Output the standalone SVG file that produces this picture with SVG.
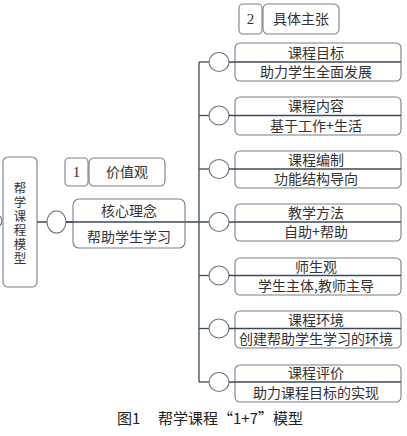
<svg xmlns="http://www.w3.org/2000/svg" width="407" height="436" viewBox="0 0 407 436">
<style>
.box{fill:#fff;stroke:#7a7f86;stroke-width:1.1}
.circ{fill:#fff;stroke:#6c727a;stroke-width:1.1}
.ln{stroke:#3c4a58;stroke-width:1.3;fill:none}
.t{font-family:"Noto Sans CJK SC","Noto Sans",sans-serif;font-size:14px;fill:#333;text-anchor:middle}
.v{font-family:"Noto Sans CJK SC","Noto Sans",sans-serif;font-size:12.5px;fill:#333;text-anchor:middle;writing-mode:vertical-rl;letter-spacing:1.5px}
.n{font-family:"Liberation Serif",serif;font-size:15px;fill:#333;text-anchor:middle}
.cap{font-family:"Noto Sans CJK SC","Noto Sans",sans-serif;font-size:15px;fill:#222}
</style>
<g id="connectors">
<line class="ln" x1="199" y1="62" x2="199" y2="382"/>
<line class="ln" x1="37" y1="222" x2="210" y2="222"/>
<line class="ln" x1="199" y1="62" x2="210" y2="62"/>
<line class="ln" x1="199" y1="115.5" x2="210" y2="115.5"/>
<line class="ln" x1="199" y1="169" x2="210" y2="169"/>
<line class="ln" x1="199" y1="275.5" x2="210" y2="275.5"/>
<line class="ln" x1="199" y1="328.5" x2="210" y2="328.5"/>
<line class="ln" x1="199" y1="382" x2="210" y2="382"/>
</g>
<g id="edge-mark"><circle class="circ" cx="-4" cy="221" r="6"/></g>
<g id="model">
<rect class="box" x="3" y="157" width="34" height="130" rx="5"/>
<text class="v" x="20" y="224">帮学课程模型</text>
</g>
<g id="core-circle"><ellipse class="circ" cx="56.5" cy="222" rx="9.5" ry="11"/></g>
<g id="value-label">
<rect class="box" x="65" y="158" width="23" height="28" rx="4"/>
<text class="n" x="76.5" y="177">1</text>
<rect class="box" x="89" y="158" width="76" height="28" rx="5"/>
<text class="t" x="127" y="177">价值观</text>
</g>
<g id="core">
<rect class="box" x="73" y="199" width="112" height="49" rx="6"/>
<line class="ln" x1="66" y1="222" x2="185" y2="222"/>
<text class="t" x="129" y="216">核心理念</text>
<text class="t" x="129" y="242">帮助学生学习</text>
</g>
<g id="spec-label">
<rect class="box" x="239" y="4" width="23" height="30" rx="4"/>
<text class="n" x="250.5" y="24">2</text>
<rect class="box" x="263" y="4" width="76" height="30" rx="5"/>
<text class="t" x="301" y="24">具体主张</text>
</g>
<g id="goal">
<rect class="box" x="235" y="43" width="166" height="38" rx="5"/>
<ellipse class="circ" cx="219" cy="62" rx="10" ry="9.5"/>
<line class="ln" x1="229" y1="62" x2="401" y2="62"/>
<text class="t" x="316" y="58">课程目标</text>
<text class="t" x="316" y="77">助力学生全面发展</text>
</g>
<g id="content">
<rect class="box" x="235" y="97" width="166" height="38" rx="5"/>
<ellipse class="circ" cx="219" cy="115.5" rx="10" ry="9.5"/>
<line class="ln" x1="229" y1="115.5" x2="401" y2="115.5"/>
<text class="t" x="316" y="111">课程内容</text>
<text class="t" x="316" y="131">基于工作+生活</text>
</g>
<g id="compile">
<rect class="box" x="235" y="151" width="166" height="37" rx="5"/>
<ellipse class="circ" cx="219" cy="169" rx="10" ry="9.5"/>
<line class="ln" x1="229" y1="169" x2="401" y2="169"/>
<text class="t" x="316" y="165">课程编制</text>
<text class="t" x="316" y="184">功能结构导向</text>
</g>
<g id="method">
<rect class="box" x="235" y="204" width="166" height="37" rx="5"/>
<ellipse class="circ" cx="219" cy="222" rx="10" ry="9.5"/>
<line class="ln" x1="229" y1="222" x2="401" y2="222"/>
<text class="t" x="316" y="218">教学方法</text>
<text class="t" x="316" y="237">自助+帮助</text>
</g>
<g id="relation">
<rect class="box" x="235" y="258" width="166" height="37" rx="5"/>
<ellipse class="circ" cx="219" cy="275.5" rx="10" ry="9.5"/>
<line class="ln" x1="229" y1="275.5" x2="401" y2="275.5"/>
<text class="t" x="316" y="272">师生观</text>
<text class="t" x="316" y="291">学生主体,教师主导</text>
</g>
<g id="environment">
<rect class="box" x="235" y="311" width="166" height="37" rx="5"/>
<ellipse class="circ" cx="219" cy="328.5" rx="10" ry="9.5"/>
<line class="ln" x1="229" y1="328.5" x2="401" y2="328.5"/>
<text class="t" x="316" y="325">课程环境</text>
<text class="t" x="316" y="344">创建帮助学生学习的环境</text>
</g>
<g id="evaluation">
<rect class="box" x="235" y="365" width="166" height="37" rx="5"/>
<ellipse class="circ" cx="219" cy="382" rx="10" ry="9.5"/>
<line class="ln" x1="229" y1="382" x2="401" y2="382"/>
<text class="t" x="316" y="378">课程评价</text>
<text class="t" x="316" y="398">助力课程目标的实现</text>
</g>
<text class="cap" x="117" y="424">图1<tspan x="158">帮学课程“1+7”模型</tspan></text>
</svg>
